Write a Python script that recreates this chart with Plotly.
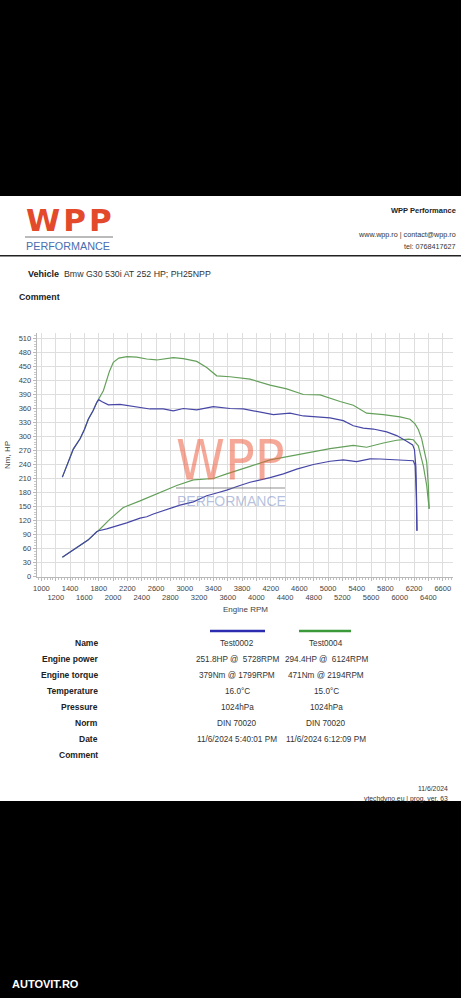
import plotly.graph_objects as go

W, H = 461, 998

# ---------------- data ----------------
rpm_torque_t2 = [1292, 1360, 1445, 1539, 1600, 1654, 1720, 1772, 1799, 1840, 1934, 2097, 2283, 2515, 2700, 2840,
                 2980, 3167, 3398, 3632, 3817, 4004, 4236, 4469, 4655, 4841, 5027, 5212, 5352, 5491, 5631,
                 5818, 5957, 6097, 6180, 6205, 6225, 6235, 6240]
torque_t2 = [213, 240, 273, 295, 315, 337, 355, 373, 379, 375, 368, 369, 364, 359, 359, 355,
             360, 357, 364, 360, 359, 353, 347, 350, 344, 342, 340, 334, 323, 318, 316,
             310, 302, 290, 282, 272, 235, 165, 98]

rpm_power_t2 = [1292, 1400, 1492, 1650, 1772, 1799, 1911, 2097, 2190, 2376, 2469, 2562, 2748, 2934, 3120,
                3306, 3446, 3585, 3771, 3911, 4190, 4376, 4562, 4795, 5027, 5212, 5398, 5584, 5728, 5957,
                6143, 6189, 6215, 6230, 6240]
power_t2 = [41, 52, 60, 78, 96, 98, 102, 110, 115, 125, 128, 134, 143, 153, 160,
            173, 179, 185, 195, 202, 212, 220, 230, 240, 247, 250, 246, 252, 251.8, 250,
            248, 248, 238, 180, 98]

rpm_torque_t4 = [1292, 1360, 1445, 1539, 1600, 1654, 1720, 1772, 1864, 1950, 2003, 2080, 2194, 2330, 2469, 2609,
                 2841, 2980, 3167, 3306, 3446, 3632, 3911, 4190, 4423, 4655, 4888, 5167, 5352, 5538, 5771,
                 6004, 6143, 6213, 6259, 6306, 6352, 6376, 6399, 6410]
torque_t4 = [213, 240, 273, 295, 315, 337, 355, 373, 398, 440, 459, 468, 471, 470, 466, 464,
             469, 467, 461, 448, 430, 428, 423, 410, 402, 390, 389, 375, 367, 350, 347,
             342, 337, 327, 315, 295, 266, 245, 195, 145]

rpm_power_t4 = [1292, 1400, 1492, 1650, 1772, 1794, 1957, 2143, 2376, 2609, 2888, 3120, 3399, 3585, 3771,
                3911, 4190, 4469, 4748, 5027, 5352, 5538, 5771, 5957, 6124, 6189, 6259, 6329, 6376, 6410]
power_t4 = [41, 52, 60, 78, 96, 98, 123, 148, 162, 177, 195, 207, 210, 220, 230,
            236, 250, 258, 266, 274, 281, 277, 286, 292, 294.4, 293, 280, 237, 195, 145]

x_tick_vals = list(range(1000, 6601, 200))
y_tick_vals = list(range(0, 511, 30))

table_labels = ["Name", "Engine power", "Engine torque", "Temperature", "Pressure", "Norm", "Date", "Comment"]
col_t2 = ["Test0002", "251.8HP @  5728RPM", "379Nm @ 1799RPM", "16.0°C", "1024hPa", "DIN 70020",
          "11/6/2024 5:40:01 PM", ""]
col_t4 = ["Test0004", "294.4HP @  6124RPM", "471Nm @ 2194RPM", "15.0°C", "1024hPa", "DIN 70020",
          "11/6/2024 6:12:09 PM", ""]

# ---------------- styles ----------------
FONT = "Liberation Sans, Arial, sans-serif"
BLUE = "#4646a6"
GREEN = "#64a05a"
LEG_BLUE = "#2c2cb0"
LEG_GREEN = "#3a9a3a"


def px(x):
    return x / W


def py(y):
    return 1 - y / H


fig = go.Figure()
for xs, ys, col in [(rpm_torque_t4, torque_t4, GREEN), (rpm_power_t4, power_t4, GREEN),
                    (rpm_torque_t2, torque_t2, BLUE), (rpm_power_t2, power_t2, BLUE)]:
    fig.add_trace(go.Scatter(x=xs, y=ys, mode="lines", line=dict(color=col, width=1.2),
                             hoverinfo="skip", showlegend=False))

x_tick_text = [str(v) if i % 2 == 0 else "<br>" + str(v) for i, v in enumerate(x_tick_vals)]

# plot area placement
x0p, x1p = 36.7, 453.0
y0p, y1p = 576.5, 333.0

fig.update_layout(
    width=W, height=H, autosize=False, margin=dict(l=0, r=0, t=0, b=0, pad=0, autoexpand=False),
    paper_bgcolor="black", plot_bgcolor="white",
    font=dict(family=FONT, color="#333"),
    xaxis=dict(domain=[px(x0p), px(x1p)], range=[934, 6743], automargin=False,
               tickvals=x_tick_vals, ticktext=x_tick_text, tickangle=0,
               tickfont=dict(size=7.5, color="#444", family=FONT), ticklabelstandoff=1,
               showgrid=True, gridcolor="#dedede", gridwidth=1,
               zeroline=False, showline=True, linecolor="#b8b8b8", linewidth=1,
               ticks="outside", ticklen=3, tickcolor="#b8b8b8",
               minor=dict(ticks="outside", ticklen=2, dtick=40, tick0=1000, tickcolor="#c0c0c0", showgrid=False),
               fixedrange=True),
    yaxis=dict(domain=[py(y0p), py(y1p)], range=[0, (y0p - y1p) / 14 * 30], automargin=False,
               tickvals=y_tick_vals, tickfont=dict(size=7.5, color="#444", family=FONT),
               showgrid=True, gridcolor="#dedede", gridwidth=1,
               zeroline=False, showline=True, linecolor="#b8b8b8", linewidth=1,
               ticks="outside", ticklen=3, tickcolor="#b8b8b8",
               minor=dict(ticks="outside", ticklen=2, dtick=6, tick0=0, tickcolor="#c8c8c8", showgrid=False),
               fixedrange=True),
)

shapes = [
    # white page
    dict(type="rect", xref="paper", yref="paper", x0=0, x1=1, y0=py(801), y1=py(196),
         fillcolor="white", line=dict(width=0), layer="below"),
    # header rule
    dict(type="line", xref="paper", yref="paper", x0=0, x1=1, y0=py(255.7), y1=py(255.7),
         line=dict(color="#222", width=1.5)),
    # logo underline
    dict(type="line", xref="paper", yref="paper", x0=px(25), x1=px(113), y0=py(237), y1=py(237),
         line=dict(color="#777", width=1)),
    # watermark rule
    dict(type="line", xref="paper", yref="paper", x0=px(176), x1=px(285), y0=py(488), y1=py(488),
         line=dict(color="rgba(120,120,120,0.55)", width=1.5)),
    # legend lines
    dict(type="line", xref="paper", yref="paper", x0=px(210), x1=px(265), y0=py(631), y1=py(631),
         line=dict(color=LEG_BLUE, width=2.5)),
    dict(type="line", xref="paper", yref="paper", x0=px(299), x1=px(351), y0=py(631), y1=py(631),
         line=dict(color=LEG_GREEN, width=2.5)),
]
fig.update_layout(shapes=shapes)

ann = []


def text(x, y, s, size=8.5, color="#222", anchor="left", bold=False, family=FONT, angle=0, opacity=1):
    if bold:
        s = "<b>" + s + "</b>"
    ann.append(dict(x=px(x), y=py(y), xref="paper", yref="paper", text=s, showarrow=False,
                    xanchor=anchor, yanchor="middle", textangle=angle, opacity=opacity,
                    font=dict(size=size, color=color, family=family)))


# logo
text(24, 220, "W\u200aP\u200aP", size=31, color="#e24a2b", bold=True, family="DejaVu Sans, Liberation Sans")
text(24, 246.3, "PERFORMANCE", size=10.8, color="#4a6db0", family=FONT)
# right header
text(458, 210.5, "WPP Performance", size=7.5, color="#222", anchor="right", bold=True)
text(458, 235, "www.wpp.ro | contact@wpp.ro", size=7.2, color="#333", anchor="right")
text(458, 246.5, "tel: 0768417627", size=7.2, color="#333", anchor="right")
# vehicle line
text(26, 273.5, "Vehicle", size=9, color="#222", bold=True)
text(62, 273.5, "Bmw G30 530i AT 252 HP; PH25NPP", size=8.8, color="#333")
text(17, 296.5, "Comment", size=8.8, color="#222", bold=True)

# watermark
text(230.5, 460, "WPP", size=55, color="rgba(236,96,66,0.55)", anchor="center",
     family="Liberation Sans Narrow, DejaVu Sans Condensed, Liberation Sans")
text(231, 501, "PERFORMANCE", size=14, color="rgba(120,140,195,0.55)", anchor="center")

# axis titles
text(8, 455, "Nm, HP", size=8, color="#444", anchor="center", angle=-90)
text(245, 609, "Engine RPM", size=8, color="#444", anchor="center")

# table
row_y = [643.3, 659.3, 675.3, 691.3, 707.3, 723.3, 739.3, 755.3]
for lab, a, b, yy in zip(table_labels, col_t2, col_t4, row_y):
    text(100, yy, lab, size=8.5, color="#222", anchor="right", bold=True)
    if a:
        text(237.5, yy, a, size=8.2, color="#333", anchor="center")
    if b:
        text(326, yy, b, size=8.2, color="#333", anchor="center")

# footer
text(450, 788, "11/6/2024", size=6.8, color="#333", anchor="right")
text(450, 799, "vtechdyno.eu | prog. ver. 63", size=6.8, color="#333", anchor="right")

# bottom brand
text(9.5, 984, "AUTOVIT.RO", size=11, color="white", bold=True)

fig.update_layout(annotations=ann)

fig.write_html("out.html", config={"displayModeBar": False},
               post_script="document.body.style.margin='0';document.body.style.overflow='hidden';")
